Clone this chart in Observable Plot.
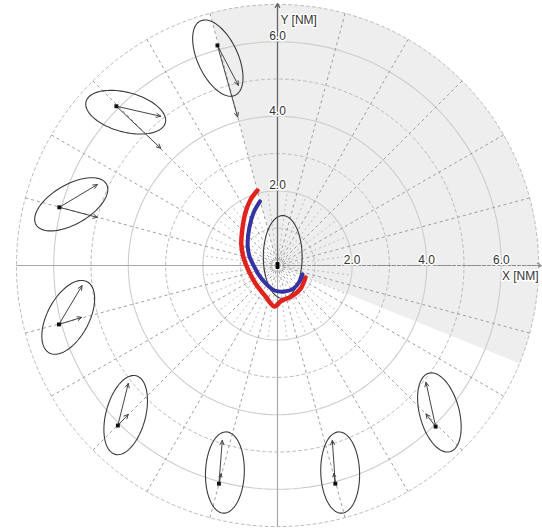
<!DOCTYPE html>
<html>
<head>
<meta charset="utf-8">
<script src="https://cdn.jsdelivr.net/npm/d3@7"></script>
<script src="https://cdn.jsdelivr.net/npm/@observablehq/plot@0.6"></script>
<style>
  html, body { margin: 0; padding: 0; background: #fff; }
  #chart svg { display: block; }
</style>
</head>
<body>
<div id="chart"></div>
<script>
// ---- data (NM, x east / y north) ----
const solidRings = [2, 4, 6];
const dashedRings = [1, 3, 5, 7];
const spokeStep = 15;            // degrees between outer spokes
const innerSpokeRadius = 2;      // fine spokes near own ship
const tickValues = [2, 4, 6];
const tickLabels = ["2.0", "4.0", "6.0"];
const xTitle = "X [NM]";
const yTitle = "Y [NM]";

// shaded sector (bearings, degrees clockwise from north)
const sectorFrom = -15;
const sectorTo = 112;
const sectorRadius = 7;

// own ship track estimates
const redX = [-0.54, -0.72, -0.86, -0.94, -0.97, -0.91, -0.78, -0.59, -0.32, -0.08, 0.11, 0.38, 0.62, 0.75];
const redY = [2.01, 1.77, 1.42, 0.99, 0.56, 0.21, -0.13, -0.48, -0.83, -1.10, -0.94, -0.83, -0.62, -0.32];
const blueX = [-0.47, -0.64, -0.76, -0.80, -0.75, -0.64, -0.51, -0.32, -0.08, 0.19, 0.43, 0.59, 0.67];
const blueY = [1.72, 1.42, 0.99, 0.54, 0.24, 0.00, -0.24, -0.48, -0.67, -0.70, -0.62, -0.43, -0.24];

// own ship
const ownX = [0];
const ownY = [0];
const ownEllX = [0.14];
const ownEllY = [0.23];
const ownEllA = [1.11];
const ownEllB = [0.52];
const ownEllAng = [90];

// targets: marker position, two vector ends, uncertainty ellipse
const tgtX = [-1.61, -4.32, -5.85, -5.86, -4.28, -1.57, 1.55, 4.24];
const tgtY = [5.90, 4.27, 1.56, -1.58, -4.29, -5.85, -5.85, -4.32];
const vec1X = [-1.05, -3.13, -4.83, -5.24, -4.00, -1.48, 1.47, 3.98];
const vec1Y = [4.83, 4.00, 2.17, -0.54, -3.16, -4.69, -4.69, -3.13];
const vec2X = [-1.07, -3.13, -4.83, -5.25, -4.00, -1.51, 1.51, 3.98];
const vec2Y = [3.98, 3.14, 1.29, -1.39, -3.99, -5.58, -5.58, -3.98];
const ellX = [-1.60, -4.07, -5.53, -5.61, -4.07, -1.41, 1.68, 4.34];
const ellY = [5.56, 4.11, 1.64, -1.39, -4.01, -5.55, -5.55, -3.94];
const ellA = [1.10, 1.10, 1.09, 1.08, 1.09, 1.09, 1.09, 1.09];
const ellB = [0.54, 0.53, 0.53, 0.56, 0.53, 0.52, 0.52, 0.53];
const ellAng = [115, -15, 30, 62, 75, 88, 92, 105];

// ---- geometry helpers ----
const rad = d => d * Math.PI / 180;
function circle(r, n = 180) {
  return d3.range(n + 1).map(i => {
    const t = 2 * Math.PI * i / n;
    return {r, x: r * Math.cos(t), y: r * Math.sin(t)};
  });
}
function ellipse(id, cx, cy, a, b, angDeg, n = 90) {
  const p = rad(angDeg);
  return d3.range(n + 1).map(i => {
    const t = 2 * Math.PI * i / n;
    const u = a * Math.cos(t), v = b * Math.sin(t);
    return {id, x: cx + u * Math.cos(p) - v * Math.sin(p), y: cy + u * Math.sin(p) + v * Math.cos(p)};
  });
}
const polar = (r, bearing) => ({x: r * Math.sin(rad(bearing)), y: r * Math.cos(rad(bearing))});

const solidPts = solidRings.flatMap(r => circle(r));
const dashedPts = dashedRings.flatMap(r => circle(r));
const outerR = d3.max(dashedRings);
const spokes = d3.range(0, 360, spokeStep).map(b => {
  const e = polar(outerR, b);
  return {x1: 0, y1: 0, x2: e.x, y2: e.y};
});
const innerSpokes = d3.range(spokeStep / 2, 360, spokeStep).map(b => {
  const e = polar(innerSpokeRadius, b);
  return {x1: 0, y1: 0, x2: e.x, y2: e.y};
});
const sector = [{x: 0, y: 0}].concat(
  d3.range(sectorFrom, sectorTo + 0.001, 1).map(b => polar(sectorRadius, b)),
  [{x: 0, y: 0}]
);
const red = redX.map((x, i) => ({x, y: redY[i]}));
const blue = blueX.map((x, i) => ({x, y: blueY[i]}));
const ellPts = tgtX.flatMap((_, i) => ellipse(i, ellX[i], ellY[i], ellA[i], ellB[i], ellAng[i]))
  .concat(ellipse("own", ownEllX[0], ownEllY[0], ownEllA[0], ownEllB[0], ownEllAng[0]));
const vecs = tgtX.flatMap((x, i) => [
  {x1: x, y1: tgtY[i], x2: vec1X[i], y2: vec1Y[i]},
  {x1: x, y1: tgtY[i], x2: vec2X[i], y2: vec2Y[i]}
]);
const targets = tgtX.map((x, i) => ({x, y: tgtY[i]}));
const own = ownX.map((x, i) => ({x, y: ownY[i]}));
const ticks = tickValues.map((v, i) => ({v, label: tickLabels[i]}));

const ownSymbol = {draw(ctx) { ctx.rect(-1.8, -3.5, 3.6, 7); }};

const k = 37.3, cx = 277, cy = 265;
const font = "'Liberation Sans', Arial, sans-serif";

const svg = Plot.plot({
  width: 542,
  height: 528,
  style: {background: "white", fontFamily: font, overflow: "visible"},
  x: {domain: [-outerR, outerR], range: [cx - outerR * k, cx + outerR * k], axis: null},
  y: {domain: [-outerR, outerR], range: [cy + outerR * k, cy - outerR * k], axis: null},
  marks: [
    Plot.line(sector, {x: "x", y: "y", fill: "url(#dots)", stroke: "none", curve: "linear"}),
    Plot.line(solidPts, {x: "x", y: "y", z: "r", stroke: "#cdcdcd", strokeWidth: 1.1}),
    Plot.line(dashedPts, {x: "x", y: "y", z: "r", stroke: "#bdbdbd", strokeWidth: 1, strokeDasharray: "3,3"}),
    Plot.link(spokes, {x1: "x1", y1: "y1", x2: "x2", y2: "y2", stroke: "#949494", strokeWidth: 0.9, strokeDasharray: "3,3"}),
    Plot.link(innerSpokes, {x1: "x1", y1: "y1", x2: "x2", y2: "y2", stroke: "#b0b0b0", strokeWidth: 0.8, strokeDasharray: "2,3"}),
    // axes
    Plot.link([{x1: -outerR, y1: 0, x2: 0, y2: 0}, {x1: 0, y1: -outerR, x2: 0, y2: 0}],
      {x1: "x1", y1: "y1", x2: "x2", y2: "y2", stroke: "#a8a8a8", strokeWidth: 1.2}),
    Plot.arrow([{x1: 0, y1: 0, x2: outerR + 0.08, y2: 0}],
      {x1: "x1", y1: "y1", x2: "x2", y2: "y2", stroke: "#8a8a8a", strokeWidth: 1.2, strokeDasharray: "3,2", headLength: 6}),
    Plot.arrow([{x1: 0, y1: 0, x2: 0, y2: outerR + 0.02}],
      {x1: "x1", y1: "y1", x2: "x2", y2: "y2", stroke: "#666", strokeWidth: 1.3, headLength: 5}),
    // ellipses
    Plot.line(ellPts, {x: "x", y: "y", z: "id", stroke: "#3a3a3a", strokeWidth: 1.1, curve: "linear"}),
    // vectors
    Plot.arrow(vecs, {x1: "x1", y1: "y1", x2: "x2", y2: "y2", stroke: "#444", strokeWidth: 1, headLength: 7, headAngle: 50}),
    // tracks
    Plot.line(red, {x: "x", y: "y", stroke: "#e2231d", strokeWidth: 4.5, strokeLinejoin: "round", curve: "catmull-rom"}),
    Plot.line(blue, {x: "x", y: "y", stroke: "#3333a3", strokeWidth: 4, strokeLinejoin: "round", curve: "catmull-rom"}),
    // markers
    Plot.dot(targets, {x: "x", y: "y", symbol: "square", r: 2.2, fill: "#111", stroke: "none"}),
    Plot.dot(own, {x: "x", y: "y", symbol: ownSymbol, r: 4, fill: "#000", stroke: "none"}),
    // labels
    Plot.text(ticks, {x: "v", y: () => 0, text: "label", dy: -5, fontSize: 12, fill: "#333", stroke: "white", strokeWidth: 3, fontFamily: font}),
    Plot.text(ticks, {x: () => 0, y: "v", text: "label", dy: -5.5, fontSize: 12, fill: "#333", stroke: "white", strokeWidth: 3, fontFamily: font}),
    Plot.text([yTitle], {x: () => 0, y: () => outerR, text: d => d, textAnchor: "start", dx: 3, dy: 16, fontSize: 12, fill: "#333", stroke: "white", strokeWidth: 3, fontFamily: font}),
    Plot.text([xTitle], {x: () => outerR, y: () => 0, text: d => d, textAnchor: "end", dx: 0, dy: 11, fontSize: 12, fill: "#333", stroke: "white", strokeWidth: 3, fontFamily: font})
  ]
});

// dotted fill pattern for the shaded sector
const ns = "http://www.w3.org/2000/svg";
const defs = document.createElementNS(ns, "defs");
const pat = document.createElementNS(ns, "pattern");
pat.setAttribute("id", "dots");
pat.setAttribute("patternUnits", "userSpaceOnUse");
pat.setAttribute("width", "2");
pat.setAttribute("height", "2");
for (const [px, py] of [[0, 0], [1, 1]]) {
  const r = document.createElementNS(ns, "rect");
  r.setAttribute("x", px); r.setAttribute("y", py);
  r.setAttribute("width", 1); r.setAttribute("height", 1);
  r.setAttribute("fill", "#dcdcdc");
  pat.appendChild(r);
}
defs.appendChild(pat);
svg.insertBefore(defs, svg.firstChild);

document.getElementById("chart").appendChild(svg);
</script>
</body>
</html>
